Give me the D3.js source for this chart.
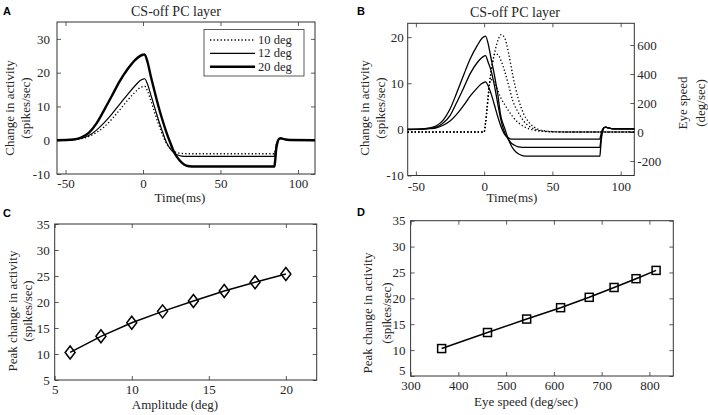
<!DOCTYPE html>
<html><head><meta charset="utf-8">
<script src="https://cdn.jsdelivr.net/npm/d3@7"></script>
<style>body{margin:0;background:#fff}svg{display:block}</style>
</head><body>
<script>
// ---------------- data ----------------
const timeA = [-55.5,-45,-40,-35,-30,-25,-20,-15,-10,-5,-2,0,1,3,5,8,10,12,15,18,20,22,25,28,30,33,40,60,84.8,85.2,86,87,88,89,91,95,111];
const actA10 = [0,0.1,0.4,1.1,2.3,4.0,6.3,9.0,11.8,14.3,15.5,15.9,16.0,14.5,11.8,7.5,4.8,2.3,-0.8,-2.6,-3.3,-3.7,-3.9,-4.0,-4.0,-4.0,-4.0,-4.0,-4.0,-3.2,-1.2,-0.1,0.4,0.5,0.3,0.05,0];
const actA12 = [0,0.15,0.5,1.4,3.0,5.2,7.8,10.7,13.5,16.2,17.6,18.1,18.2,16.5,13.5,9,6.0,3.3,-0.5,-2.8,-3.7,-4.3,-4.7,-4.8,-4.8,-4.8,-4.8,-4.8,-4.8,-3.8,-1.5,-0.2,0.4,0.5,0.3,0.05,0];
const actA20 = [0,0.2,0.8,2.2,5.0,9.0,13.2,17.5,21.0,23.8,24.9,25.3,25.4,23,19,13.5,10,6.8,2.5,-1.2,-3.5,-5.0,-6.6,-7.5,-7.7,-7.8,-7.8,-7.8,-7.8,-6.5,-2.5,-0.3,0.5,0.6,0.3,0.05,0];
const legendA = ["10 deg","12 deg","20 deg"];

const timeB = [-56,-45,-40,-35,-30,-25,-20,-15,-10,-5,-2,0,1,3,5,8,10,12,15,18,20,22,25,28,30,33,40,60,84.8,85.2,86,87,88,89,91,95,110];
const actB6  = [0,0.05,0.15,0.35,0.9,1.8,3.3,5.2,7.3,9.0,9.9,10.2,10.3,9.4,7.8,4.8,2.7,0.9,-1.1,-1.9,-2.1,-2.1,-2.1,-2.1,-2.1,-2.1,-2.1,-2.1,-2.1,-1.6,-0.6,0.1,0.4,0.5,0.3,0.1,0.1];
const actB10 = [0,0.1,0.2,0.5,1.4,3.0,5.9,9.0,12.2,14.5,15.5,15.9,16.0,14.5,12.8,8.8,5.5,2.4,-0.7,-2.3,-3.0,-3.4,-3.8,-3.9,-3.9,-3.9,-3.9,-3.9,-3.9,-3.0,-1.2,-0.1,0.4,0.5,0.3,0.1,0.1];
const actB14 = [0,0.1,0.3,0.8,2.0,4.4,8.0,11.8,15.4,18.2,19.6,20.1,20.2,18.5,15.5,11,7.6,3.2,0.3,-2.3,-3.6,-4.5,-5.3,-5.7,-5.8,-5.8,-5.8,-5.8,-5.8,-4.5,-1.8,-0.2,0.4,0.5,0.3,0.1,0.1];
const timeEye = [-56,0,1,2,3,4,5,6,8,10,12.5,15,18,21,25,29,33,37,42,50,60,110];
const eyeB6  = [0,0,60,150,250,330,362,360,330,285,230,190,145,105,65,38,22,12,5,1,0,0];
const eyeB10 = [0,0,60,150,250,340,410,470,540,535,490,420,320,215,135,75,40,20,8,2,0,0];
const eyeB14 = [0,0,60,150,250,340,410,470,560,630,672,650,540,390,230,125,65,32,12,3,0,0];

const amplitudes = [6,8,10,12,14,16,18,20];
const peakActivity = [10.3,13.4,16.0,18.2,20.2,22.1,23.8,25.4];
const peakEyeSpeed = [365,461,543,614,674,726,772,814];

const ticksTime = [-50,0,50,100];
const ticksActA = [-10,0,10,20,30];
const ticksActB = [-10,0,10,20];
const ticksEye = [-200,0,200,400,600];
const ticksAmp = [5,10,15,20];
const ticksSpeed = [300,400,500,600,700,800];
const ticksPeak = [5,10,15,20,25,30,35];

// ---------------- drawing ----------------
const FONT = '"Liberation Serif","Times New Roman",serif';
const TXT = '#262626', AX = '#333';
const svg = d3.select('body').append('svg').attr('width',708).attr('height',415)
  .style('font-family',FONT);

function styleAxis(sel){
  sel.select('.domain').remove();
  sel.selectAll('.tick line').attr('stroke',AX).attr('stroke-width',0.8);
  sel.selectAll('.tick text').attr('fill',TXT).style('font-size','13px').style('font-family',FONT);
  sel.attr('font-size',null).attr('font-family',null);
}
function frame(x, y, xt, yt, o){
  const [x0,x1]=x.range(), [y0,y1]=y.range();
  const fmt = d=>String(d);
  svg.append('g').attr('transform',`translate(0,${y0})`)
    .call(d3.axisBottom(x).tickValues(xt).tickSizeInner(-4).tickSizeOuter(0).tickPadding(o.xpad).tickFormat(fmt)).call(styleAxis);
  svg.append('g').attr('transform',`translate(0,${y1})`)
    .call(d3.axisTop(x).tickValues(xt).tickSizeInner(-4).tickSizeOuter(0).tickFormat('')).call(styleAxis);
  const gl = svg.append('g').attr('transform',`translate(${x0},0)`)
    .call(d3.axisLeft(y).tickValues(yt).tickSizeInner(-4).tickSizeOuter(0).tickPadding(o.ypad).tickFormat(fmt)).call(styleAxis);
  if(o.lowShift) gl.selectAll('.tick text').filter(d=>d===yt[0]).attr('y',-o.lowShift);
  if(!o.noRight) svg.append('g').attr('transform',`translate(${x1},0)`)
    .call(d3.axisRight(y).tickValues(yt).tickSizeInner(-4).tickSizeOuter(0).tickFormat('')).call(styleAxis);
  svg.append('rect').attr('x',x0).attr('y',y1).attr('width',x1-x0).attr('height',y0-y1)
    .attr('fill','none').attr('stroke',AX).attr('stroke-width',1);
}
function text(x,y,s,size,opts={}){
  const t = svg.append('text').attr('x',x).attr('y',y).text(s)
    .attr('fill',opts.fill||TXT).style('font-size',size+'px')
    .attr('text-anchor',opts.anchor||'middle');
  if(opts.bold){ t.style('font-family','"Liberation Sans",Arial,sans-serif').style('font-weight','bold').attr('fill','#000'); }
  return t;
}
function vtext(cx,cy,s,size){
  svg.append('text').attr('transform',`translate(${cx},${cy}) rotate(-90)`)
    .attr('text-anchor','middle').attr('dy','0.35em').attr('fill',TXT)
    .style('font-size',size+'px').text(s);
}
function curve(x,y,xs,ys,style){
  const pts = xs.map((d,i)=>[d,ys[i]]);
  const line = d3.line().x(d=>x(d[0])).y(d=>y(d[1])).curve(d3.curveMonotoneX);
  const p = svg.append('path').attr('d',line(pts)).attr('fill','none')
    .attr('stroke','#000').attr('stroke-width',style.w).attr('stroke-linejoin','round');
  if(style.dash) p.attr('stroke-dasharray',style.dash);
  return p;
}
const DOT = '1.3,2.2';

// ---- Panel A ----
const xA = d3.scaleLinear().domain([-55.5,111]).range([57,315]);
const yA = d3.scaleLinear().domain([-10,35]).range([174,22]);
frame(xA,yA,ticksTime,ticksActA,{xpad:5,ypad:7});
curve(xA,yA,timeA,actA10,{w:1.3,dash:DOT});
curve(xA,yA,timeA,actA12,{w:1.2});
curve(xA,yA,timeA,actA20,{w:2.4});
// legend
svg.append('rect').attr('x',204).attr('y',29.5).attr('width',100).attr('height',46.5)
  .attr('fill','#fff').attr('stroke',AX).attr('stroke-width',0.8);
const legStyles = [{w:1.3,dash:DOT},{w:1.2},{w:2.4}];
legendA.forEach((lab,i)=>{
  const ly = 40 + i*13.4;
  const l = svg.append('line').attr('x1',210).attr('x2',255).attr('y1',ly).attr('y2',ly)
    .attr('stroke','#000').attr('stroke-width',legStyles[i].w);
  if(legStyles[i].dash) l.attr('stroke-dasharray',legStyles[i].dash);
  text(258,ly+4,lab,12.5,{anchor:'start'});
});
text(176,16,'CS-off PC layer',14);
text(180,202,'Time(ms)',13);
vtext(9,108,'Change in activity',13);
vtext(25,108,'(spikes/sec)',13);
text(3,15,'A',11,{anchor:'start',bold:true});

// ---- Panel B ----
const xB = d3.scaleLinear().domain([-56,110]).range([407.7,634.3]);
const yB = d3.scaleLinear().domain([-10,23]).range([175.5,23.3]);
const yE = d3.scaleLinear().domain([-300,750]).range([175.5,23.3]);
frame(xB,yB,ticksTime,ticksActB,{xpad:6,ypad:4,noRight:true});
svg.append('g').attr('transform','translate(634.3,0)')
  .call(d3.axisRight(yE).tickValues(ticksEye).tickSizeInner(-4).tickSizeOuter(0).tickPadding(3).tickFormat(d=>String(d))).call(styleAxis);
[eyeB6,eyeB10,eyeB14].forEach(s=>curve(xB,yE,timeEye,s,{w:1.3,dash:DOT}));
[actB6,actB10,actB14].forEach(s=>curve(xB,yB,timeB,s,{w:1.3}));
text(515,17,'CS-off PC layer',14);
text(512,202,'Time(ms)',13);
vtext(364,108,'Change in activity',13);
vtext(380,108,'(spikes/sec)',13);
vtext(682,103,'Eye speed',13);
vtext(700,103,'(deg/sec)',13);
text(357,15,'B',11,{anchor:'start',bold:true});

// ---- Panel C ----
const xC = d3.scaleLinear().domain([5,22]).range([54.7,316.7]);
const yC = d3.scaleLinear().domain([5,35]).range([380,224]);
frame(xC,yC,ticksAmp,ticksPeak,{xpad:5,ypad:5});
svg.append('path').attr('d',d3.line().x((d,i)=>xC(amplitudes[i])).y(d=>yC(d))(peakActivity))
  .attr('fill','none').attr('stroke','#000').attr('stroke-width',1.5);
svg.append('g').selectAll('path').data(peakActivity).join('path')
  .attr('d','M0,-6.5L5,0L0,6.5L-5,0Z')
  .attr('transform',(d,i)=>`translate(${xC(amplitudes[i])},${yC(d)})`)
  .attr('fill','none').attr('stroke','#000').attr('stroke-width',1.5);
text(175,409,'Amplitude (deg)',13);
vtext(12,311,'Peak change in activity',13);
vtext(27,311,'(spikes/sec)',13);
text(3,217,'C',11,{anchor:'start',bold:true});

// ---- Panel D ----
const xD = d3.scaleLinear().domain([300,850]).range([410.6,673.3]);
const yD = d3.scaleLinear().domain([5,35]).range([376,220.7]);
frame(xD,yD,ticksSpeed,ticksPeak,{xpad:5,ypad:5,lowShift:6});
svg.append('path').attr('d',d3.line().x((d,i)=>xD(peakEyeSpeed[i])).y(d=>yD(d))(peakActivity))
  .attr('fill','none').attr('stroke','#000').attr('stroke-width',1.5);
svg.append('g').selectAll('rect').data(peakActivity).join('rect')
  .attr('x',(d,i)=>xD(peakEyeSpeed[i])-4).attr('y',d=>yD(d)-4).attr('width',8).attr('height',8)
  .attr('fill','none').attr('stroke','#000').attr('stroke-width',1.5);
text(526,406,'Eye speed (deg/sec)',13);
vtext(367,313,'Peak change in activity',13);
vtext(386,313,'(spikes/sec)',13);
text(357,216,'D',11,{anchor:'start',bold:true});
</script>
</body></html>
